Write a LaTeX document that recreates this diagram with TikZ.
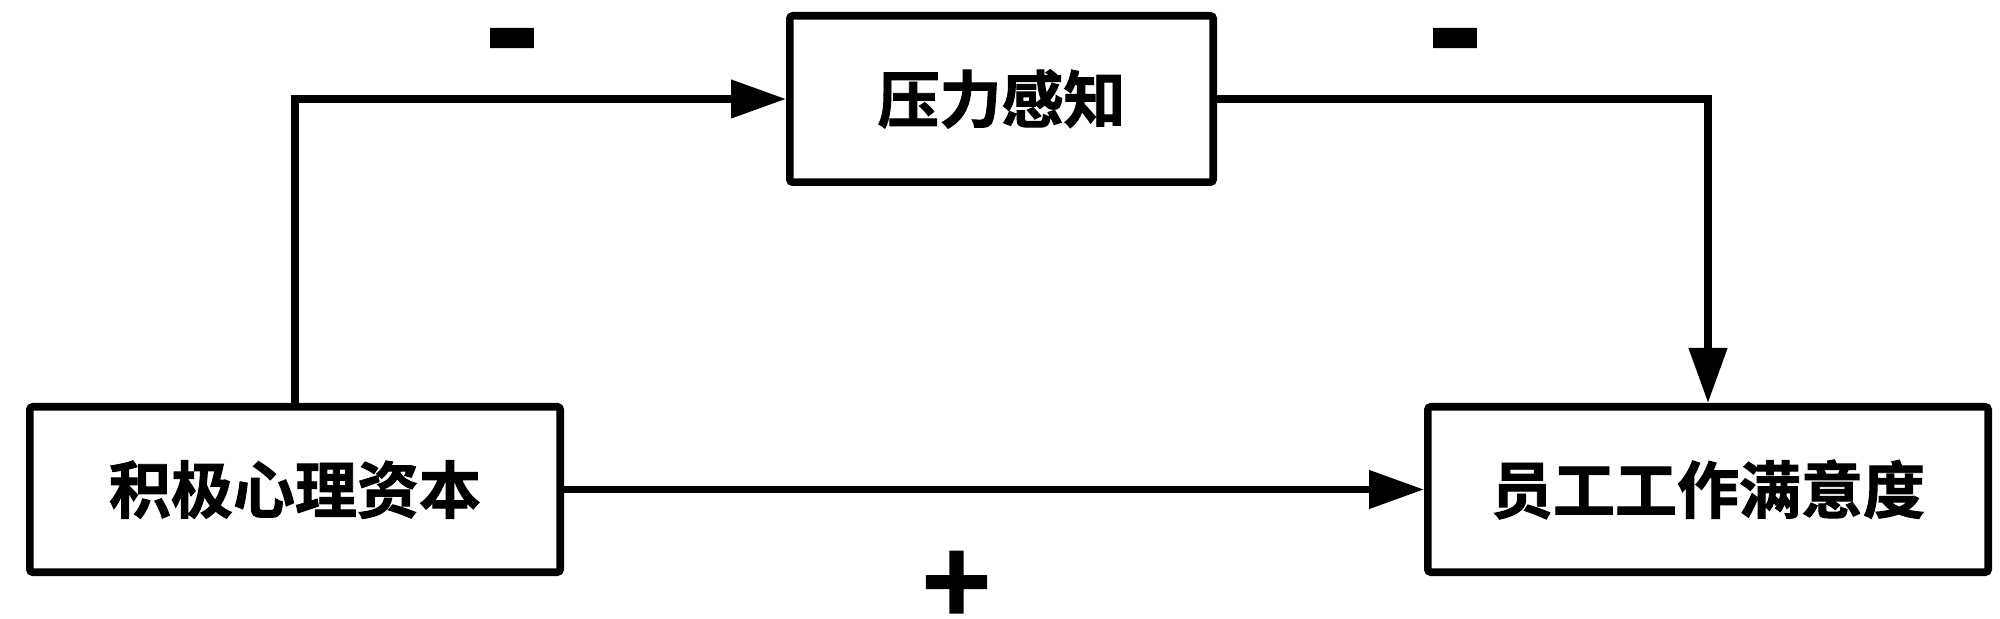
\documentclass[tikz,border=0pt]{standalone}
\usepackage{fontspec}
\usetikzlibrary{arrows.meta}
\newfontfamily\cjk{Noto Sans CJK SC}[BoldFont={Noto Sans CJK SC Bold}, BoldFeatures={FakeBold=1.5}]
\tikzset{
  box/.style={draw, line width=3.8pt, rounded corners=1.5pt, inner sep=0pt, font=\cjk\bfseries\fontsize{31pt}{31pt}\selectfont},
  conn/.style={line width=3.8pt, -{Triangle[length=27.5pt,width=18.5pt]}},
  sign/.style={inner sep=0pt, anchor=base, font=\cjk\bfseries}
}
\newcommand{\minussign}{\scalebox{1.9}[2.1]{\raisebox{-11.2pt}{\fontsize{40pt}{40pt}\selectfont -}}}
\begin{document}
\begin{tikzpicture}[x=0.5pt,y=-0.5pt]
\useasboundingbox (0,0) rectangle (2000,619);
\node[box, minimum width=265.2pt, minimum height=82.7pt] (pc) at (295,489.5) {积极心理资本};
\node[box, minimum width=211.7pt, minimum height=83.2pt] (sp) at (1001.5,99) {压力感知};
\node[box, minimum width=280.2pt, minimum height=82.7pt] (js) at (1708,489.5) {员工工作满意度};
\draw[conn] (pc.north) |- (sp.west);
\draw[conn] (sp.east) -| (js.north);
\draw[conn] (pc.east) -- (js.west);
\node[sign] (m1) at (512,39) {\minussign};
\node[sign] (m2) at (1455,39) {\minussign};
\node[sign, anchor=center] (p1) at (956.5,588.5) {\fontsize{58pt}{58pt}\selectfont +};
\end{tikzpicture}
\end{document}
